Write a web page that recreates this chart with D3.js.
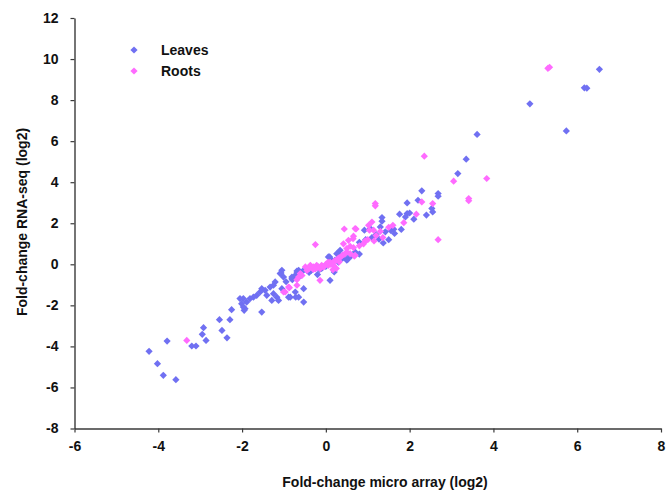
<!DOCTYPE html>
<html><head><meta charset="utf-8">
<script src="https://cdn.jsdelivr.net/npm/d3@7"></script>
<style>body{margin:0;background:#fff}svg{display:block}text{font-family:"Liberation Sans",Arial,sans-serif;font-weight:bold}</style>
</head><body><svg id="c" width="666" height="494"></svg>
<script>
const xTicks=[-6,-4,-2,0,2,4,6,8];
const yTicks=[-8,-6,-4,-2,0,2,4,6,8,10,12];
const seriesNames=["Leaves","Roots"];
const seriesColors=["#7070F2","#FF6BFF"];
const leavesX=[6.53,6.17,6.23,4.87,5.74,3.61,3.35,3.15,2.29,2.68,2.68,2.2,1.94,2.53,2.55,1.94,2.0,1.76,1.9,1.34,1.34,0.92,1.3,1.42,1.62,1.64,1.27,1.37,0.8,0.52,0.06,0.3,1.06,0.34,0.26,0.22,0.09,0.14,-0.53,-0.45,-0.65,-0.73,-0.81,-0.69,0.1,0.2,-1.09,-1.05,-1.01,-1.21,-1.25,-1.33,-1.45,-1.53,-1.57,-1.65,-1.73,-1.81,-1.89,-1.97,-2.01,-1.93,-1.53,-1.05,-0.85,-0.73,-0.65,-0.53,-1.25,-1.17,-1.13,-1.29,-1.41,-1.07,-0.69,-0.81,-0.8,-0.53,-0.72,-0.89,-1.95,-2.05,-1.97,-2.25,-2.54,-2.29,-2.48,-2.36,-2.92,-2.95,-2.86,-3.2,-3.1,-3.79,-4.22,-4.02,-3.88,-3.58,-0.3,-0.2,-0.1,0.0,0.3,0.4,0.6,0.7,0.8,0.5,-0.4,-0.2,0.05,1.1,1.5,1.8,2.4,-0.35,-0.15,0.35,0.45,-0.6,-0.95,1.2,1.55,0.95,2.1];
const leavesY=[9.5,8.6,8.58,7.82,6.5,6.33,5.12,4.42,3.58,3.45,3.32,3.12,2.99,2.72,2.55,2.47,2.5,2.44,2.31,2.28,2.1,1.66,1.82,1.58,1.71,1.5,1.22,1.04,1.07,0.24,0.36,0.52,1.74,0.68,0.52,0.2,0.36,0.2,-0.29,-0.29,-0.29,-0.54,-0.7,-0.42,-0.78,-0.37,-0.45,-0.29,-0.62,-0.86,-1.02,-1.11,-1.27,-1.19,-1.35,-1.51,-1.6,-1.67,-1.84,-1.67,-1.92,-2.16,-2.33,-1.19,-1.6,-1.35,-1.6,-1.84,-1.43,-1.6,-1.76,-1.76,-1.51,-0.42,-0.33,-0.62,-0.75,-1.19,-1.6,-1.6,-2.24,-1.67,-2.08,-2.21,-2.7,-2.7,-3.22,-3.58,-3.09,-3.41,-3.71,-3.98,-3.98,-3.74,-4.24,-4.84,-5.41,-5.62,-0.2,-0.1,-0.2,-0.1,0.1,0.3,0.4,0.6,0.5,0.2,-0.4,-0.5,0.05,1.3,1.2,1.7,2.4,-0.3,-0.25,0.4,0.45,-0.55,-0.85,1.45,1.65,1.2,2.2];
const rootsX=[5.3,5.34,3.84,2.35,3.05,3.41,3.41,2.29,2.55,1.18,1.18,2.16,1.86,2.68,1.1,1.04,0.44,0.72,1.36,1.15,0.94,-0.25,0.42,0.54,0.65,0.58,0.66,0.5,0.68,0.7,0.66,1.02,1.14,0.5,0.58,0.7,0.06,0.18,-0.06,-0.14,-0.49,-0.37,-0.3,-0.22,-0.61,-0.65,-0.57,-0.69,-0.14,0.17,-0.97,-0.89,-0.69,-1.01,-0.87,-3.32,0.0,0.1,0.2,0.3,0.25,0.35,0.4,-0.1,-0.2,-0.3,-0.4,-0.45,0.15,0.05,0.45,0.9,0.8,1.0,1.2,1.3,1.5,1.6,0.25,-0.05,0.12,-0.25,0.32];
const rootsY=[9.55,9.6,4.18,5.27,4.05,3.2,3.1,3.04,2.96,2.96,2.85,2.44,2.03,1.2,2.06,1.66,1.72,1.72,1.3,1.14,1.14,0.96,1.0,1.17,1.25,0.88,0.81,0.6,0.4,1.74,1.37,1.9,1.66,0.77,0.52,0.44,-0.05,-0.05,-0.13,-0.21,-0.13,-0.05,-0.13,-0.05,-0.45,-0.62,-0.54,-0.75,-0.78,-0.26,-1.35,-1.11,-1.02,-1.35,-1.14,-3.71,0.0,0.1,0.15,0.3,0.2,0.35,0.45,-0.05,-0.15,-0.25,-0.2,-0.3,0.05,0.1,0.5,1.0,0.9,1.2,1.4,1.6,1.8,1.9,-0.2,-0.12,0.0,-0.22,0.12];

const svg=d3.select("#c");
const x=d3.scaleLinear().domain([-6,8]).range([74.5,661]);
const y=d3.scaleLinear().domain([-8,12]).range([428.5,18]);

const diamond={draw(ctx,size){const r=Math.sqrt(size/2);ctx.moveTo(0,-r);ctx.lineTo(r,0);ctx.lineTo(0,r);ctx.lineTo(-r,0);ctx.closePath();}};
const sym=d3.symbol().type(diamond).size(26);

const fmt=d=>String(d);
const gx=svg.append("g").attr("transform",`translate(0,${y(-8)})`)
  .call(d3.axisBottom(x).tickValues(xTicks).tickSize(4).tickPadding(9).tickSizeOuter(0).tickFormat(fmt));
const gy=svg.append("g").attr("transform",`translate(${x(-6)},0)`)
  .call(d3.axisLeft(y).tickValues(yTicks).tickSize(4).tickPadding(12).tickSizeOuter(0).tickFormat(fmt));
[gx,gy].forEach(g=>{
  g.select(".domain").attr("stroke","#3a3a3a").attr("stroke-width",1.4);
  g.selectAll(".tick line").attr("stroke","#3a3a3a").attr("stroke-width",1.2);
  g.selectAll(".tick text").attr("fill","#111").style("font-size","14px").style("font-weight","bold").style("font-family","'Liberation Sans',Arial,sans-serif");
});

const data=[leavesX.map((v,i)=>[v,leavesY[i]]),rootsX.map((v,i)=>[v,rootsY[i]])];
data.forEach((pts,si)=>{
  svg.append("g").selectAll("path").data(pts).join("path")
    .attr("d",sym).attr("fill",seriesColors[si])
    .attr("transform",d=>`translate(${x(d[0])},${y(d[1])})`);
});

const leg=svg.append("g");
seriesNames.forEach((n,i)=>{
  leg.append("path").attr("d",sym).attr("fill",seriesColors[i]).attr("transform",`translate(134,${50+i*21})`);
  leg.append("text").attr("x",161).attr("y",55+i*21).attr("font-size","14px").attr("fill","#111").text(n);
});

svg.append("text").attr("x",385).attr("y",487).attr("text-anchor","middle").attr("font-size","14px").attr("fill","#111").text("Fold-change micro array (log2)");
svg.append("text").attr("transform","translate(27,222) rotate(-90)").attr("text-anchor","middle").attr("font-size","14px").attr("fill","#111").text("Fold-change RNA-seq (log2)");
</script></body></html>
